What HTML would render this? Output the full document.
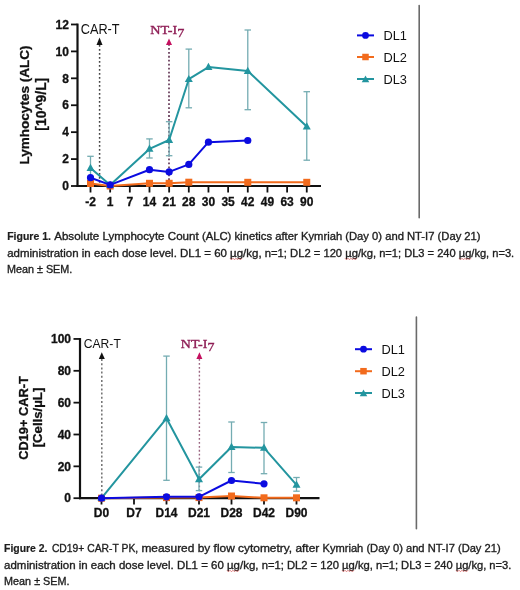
<!DOCTYPE html>
<html><head><meta charset="utf-8"><title>Figures</title>
<style>
html,body{margin:0;padding:0;background:#fff;}
body{width:520px;height:590px;overflow:hidden;font-family:"Liberation Sans",sans-serif;}
svg{display:block;filter:blur(0.3px);}
</style></head>
<body>
<svg width="520" height="590" viewBox="0 0 520 590">
<rect width="520" height="590" fill="#fff"/>
<line x1="77.5" y1="23.58" x2="77.5" y2="187" stroke="#111" stroke-width="2.2"/>
<line x1="76.5" y1="186.0" x2="321" y2="186.0" stroke="#111" stroke-width="2.2"/>
<line x1="71" y1="186" x2="77.5" y2="186" stroke="#111" stroke-width="1.8"/>
<text x="68.9" y="190.2" font-family="Liberation Sans, sans-serif" font-size="12" font-weight="bold" stroke="#111" stroke-width="0.3" fill="#111" text-anchor="end" >0</text>
<line x1="71" y1="159.08" x2="77.5" y2="159.08" stroke="#111" stroke-width="1.8"/>
<text x="68.9" y="163.28" font-family="Liberation Sans, sans-serif" font-size="12" font-weight="bold" stroke="#111" stroke-width="0.3" fill="#111" text-anchor="end" >2</text>
<line x1="71" y1="132.16" x2="77.5" y2="132.16" stroke="#111" stroke-width="1.8"/>
<text x="68.9" y="136.36" font-family="Liberation Sans, sans-serif" font-size="12" font-weight="bold" stroke="#111" stroke-width="0.3" fill="#111" text-anchor="end" >4</text>
<line x1="71" y1="105.24" x2="77.5" y2="105.24" stroke="#111" stroke-width="1.8"/>
<text x="68.9" y="109.44" font-family="Liberation Sans, sans-serif" font-size="12" font-weight="bold" stroke="#111" stroke-width="0.3" fill="#111" text-anchor="end" >6</text>
<line x1="71" y1="78.32" x2="77.5" y2="78.32" stroke="#111" stroke-width="1.8"/>
<text x="68.9" y="82.52" font-family="Liberation Sans, sans-serif" font-size="12" font-weight="bold" stroke="#111" stroke-width="0.3" fill="#111" text-anchor="end" >8</text>
<line x1="71" y1="51.4" x2="77.5" y2="51.4" stroke="#111" stroke-width="1.8"/>
<text x="68.9" y="55.6" font-family="Liberation Sans, sans-serif" font-size="12" font-weight="bold" stroke="#111" stroke-width="0.3" fill="#111" text-anchor="end" >10</text>
<line x1="71" y1="24.48" x2="77.5" y2="24.48" stroke="#111" stroke-width="1.8"/>
<text x="68.9" y="28.68" font-family="Liberation Sans, sans-serif" font-size="12" font-weight="bold" stroke="#111" stroke-width="0.3" fill="#111" text-anchor="end" >12</text>
<line x1="90.5" y1="186.0" x2="90.5" y2="192.5" stroke="#111" stroke-width="1.8"/>
<text x="90.5" y="205.5" font-family="Liberation Sans, sans-serif" font-size="12" font-weight="bold" stroke="#111" stroke-width="0.3" fill="#111" text-anchor="middle" >-2</text>
<line x1="110.16" y1="186.0" x2="110.16" y2="192.5" stroke="#111" stroke-width="1.8"/>
<text x="110.16" y="205.5" font-family="Liberation Sans, sans-serif" font-size="12" font-weight="bold" stroke="#111" stroke-width="0.3" fill="#111" text-anchor="middle" >1</text>
<line x1="129.82" y1="186.0" x2="129.82" y2="192.5" stroke="#111" stroke-width="1.8"/>
<text x="129.82" y="205.5" font-family="Liberation Sans, sans-serif" font-size="12" font-weight="bold" stroke="#111" stroke-width="0.3" fill="#111" text-anchor="middle" >7</text>
<line x1="149.48" y1="186.0" x2="149.48" y2="192.5" stroke="#111" stroke-width="1.8"/>
<text x="149.48" y="205.5" font-family="Liberation Sans, sans-serif" font-size="12" font-weight="bold" stroke="#111" stroke-width="0.3" fill="#111" text-anchor="middle" >14</text>
<line x1="169.14" y1="186.0" x2="169.14" y2="192.5" stroke="#111" stroke-width="1.8"/>
<text x="169.14" y="205.5" font-family="Liberation Sans, sans-serif" font-size="12" font-weight="bold" stroke="#111" stroke-width="0.3" fill="#111" text-anchor="middle" >21</text>
<line x1="188.8" y1="186.0" x2="188.8" y2="192.5" stroke="#111" stroke-width="1.8"/>
<text x="188.8" y="205.5" font-family="Liberation Sans, sans-serif" font-size="12" font-weight="bold" stroke="#111" stroke-width="0.3" fill="#111" text-anchor="middle" >28</text>
<line x1="208.46" y1="186.0" x2="208.46" y2="192.5" stroke="#111" stroke-width="1.8"/>
<text x="208.46" y="205.5" font-family="Liberation Sans, sans-serif" font-size="12" font-weight="bold" stroke="#111" stroke-width="0.3" fill="#111" text-anchor="middle" >30</text>
<line x1="228.12" y1="186.0" x2="228.12" y2="192.5" stroke="#111" stroke-width="1.8"/>
<text x="228.12" y="205.5" font-family="Liberation Sans, sans-serif" font-size="12" font-weight="bold" stroke="#111" stroke-width="0.3" fill="#111" text-anchor="middle" >35</text>
<line x1="247.78" y1="186.0" x2="247.78" y2="192.5" stroke="#111" stroke-width="1.8"/>
<text x="247.78" y="205.5" font-family="Liberation Sans, sans-serif" font-size="12" font-weight="bold" stroke="#111" stroke-width="0.3" fill="#111" text-anchor="middle" >42</text>
<line x1="267.44" y1="186.0" x2="267.44" y2="192.5" stroke="#111" stroke-width="1.8"/>
<text x="267.44" y="205.5" font-family="Liberation Sans, sans-serif" font-size="12" font-weight="bold" stroke="#111" stroke-width="0.3" fill="#111" text-anchor="middle" >49</text>
<line x1="287.1" y1="186.0" x2="287.1" y2="192.5" stroke="#111" stroke-width="1.8"/>
<text x="287.1" y="205.5" font-family="Liberation Sans, sans-serif" font-size="12" font-weight="bold" stroke="#111" stroke-width="0.3" fill="#111" text-anchor="middle" >63</text>
<line x1="306.76" y1="186.0" x2="306.76" y2="192.5" stroke="#111" stroke-width="1.8"/>
<text x="306.76" y="205.5" font-family="Liberation Sans, sans-serif" font-size="12" font-weight="bold" stroke="#111" stroke-width="0.3" fill="#111" text-anchor="middle" >90</text>
<text transform="translate(29.3,105) rotate(-90)" font-family="Liberation Sans, sans-serif" font-size="13.55" font-weight="bold" fill="#111" stroke="#111" stroke-width="0.3" text-anchor="middle">Lymhocytes (ALC)</text>
<text transform="translate(45.9,104.2) rotate(-90)" font-family="Liberation Sans, sans-serif" font-size="13.9" font-weight="bold" fill="#111" stroke="#111" stroke-width="0.3" text-anchor="middle">[10^9/L]</text>
<line x1="99.6" y1="45" x2="99.6" y2="185" stroke="#444" stroke-width="1.5" stroke-dasharray="1.8,2.2"/>
<polygon points="99.5,37.5 96.5,45 102.5,45" fill="#111"/>
<text x="80.8" y="33.8" font-family="Liberation Sans, sans-serif" font-size="14" fill="#111" text-anchor="start" textLength="38.8" lengthAdjust="spacingAndGlyphs">CAR-T</text>
<line x1="169" y1="44" x2="169" y2="185" stroke="#5a2c4c" stroke-width="1.6" stroke-dasharray="1.8,2.15"/>
<polygon points="169,38.5 166,45 172,45" fill="#c4105f"/>
<text x="150.2" y="33.8" font-family="Liberation Serif, serif" font-size="13.2" fill="#8e1d55" stroke="#8e1d55" stroke-width="0.35" textLength="34.2" lengthAdjust="spacingAndGlyphs">NT-I<tspan dy="2.8">7</tspan></text>
<line x1="90.5" y1="156.3" x2="90.5" y2="178" stroke="#74acb2" stroke-width="1.3"/><line x1="87.25" y1="156.3" x2="93.75" y2="156.3" stroke="#74acb2" stroke-width="1.3"/><line x1="87.25" y1="178" x2="93.75" y2="178" stroke="#74acb2" stroke-width="1.3"/>
<line x1="149.48" y1="138.9" x2="149.48" y2="158" stroke="#74acb2" stroke-width="1.3"/><line x1="146.23" y1="138.9" x2="152.73" y2="138.9" stroke="#74acb2" stroke-width="1.3"/><line x1="146.23" y1="158" x2="152.73" y2="158" stroke="#74acb2" stroke-width="1.3"/>
<line x1="169.14" y1="121.7" x2="169.14" y2="155.7" stroke="#74acb2" stroke-width="1.3"/><line x1="165.89" y1="121.7" x2="172.39" y2="121.7" stroke="#74acb2" stroke-width="1.3"/><line x1="165.89" y1="155.7" x2="172.39" y2="155.7" stroke="#74acb2" stroke-width="1.3"/>
<line x1="188.8" y1="49.1" x2="188.8" y2="107.8" stroke="#74acb2" stroke-width="1.3"/><line x1="185.55" y1="49.1" x2="192.05" y2="49.1" stroke="#74acb2" stroke-width="1.3"/><line x1="185.55" y1="107.8" x2="192.05" y2="107.8" stroke="#74acb2" stroke-width="1.3"/>
<line x1="247.78" y1="30" x2="247.78" y2="109.7" stroke="#74acb2" stroke-width="1.3"/><line x1="244.53" y1="30" x2="251.03" y2="30" stroke="#74acb2" stroke-width="1.3"/><line x1="244.53" y1="109.7" x2="251.03" y2="109.7" stroke="#74acb2" stroke-width="1.3"/>
<line x1="306.76" y1="91.7" x2="306.76" y2="160.2" stroke="#74acb2" stroke-width="1.3"/><line x1="303.51" y1="91.7" x2="310.01" y2="91.7" stroke="#74acb2" stroke-width="1.3"/><line x1="303.51" y1="160.2" x2="310.01" y2="160.2" stroke="#74acb2" stroke-width="1.3"/>
<polyline points="90.5,183.5 110.16,186 149.48,183.3 169.14,183.3 188.8,182.2 247.78,182.3 306.76,182.3" fill="none" stroke="#f26b1d" stroke-width="2" stroke-linejoin="round"/>
<rect x="87" y="180" width="7" height="7" fill="#f26b1d"/>
<rect x="106.66" y="182.5" width="7" height="7" fill="#f26b1d"/>
<rect x="145.98" y="179.8" width="7" height="7" fill="#f26b1d"/>
<rect x="165.64" y="179.8" width="7" height="7" fill="#f26b1d"/>
<rect x="185.3" y="178.7" width="7" height="7" fill="#f26b1d"/>
<rect x="244.28" y="178.8" width="7" height="7" fill="#f26b1d"/>
<rect x="303.26" y="178.8" width="7" height="7" fill="#f26b1d"/>
<polyline points="90.5,168 110.16,185 149.48,148.9 169.14,140 188.8,79.2 208.46,67.1 247.78,71 306.76,126.6" fill="none" stroke="#23959f" stroke-width="2" stroke-linejoin="round"/>
<polygon points="90.5,163.68 86.5,170.88 94.5,170.88" fill="#23959f"/>
<polygon points="110.16,180.68 106.16,187.88 114.16,187.88" fill="#23959f"/>
<polygon points="149.48,144.58 145.48,151.78 153.48,151.78" fill="#23959f"/>
<polygon points="169.14,135.68 165.14,142.88 173.14,142.88" fill="#23959f"/>
<polygon points="188.8,74.88 184.8,82.08 192.8,82.08" fill="#23959f"/>
<polygon points="208.46,62.78 204.46,69.98 212.46,69.98" fill="#23959f"/>
<polygon points="247.78,66.68 243.78,73.88 251.78,73.88" fill="#23959f"/>
<polygon points="306.76,122.28 302.76,129.48 310.76,129.48" fill="#23959f"/>
<polyline points="90.5,177.7 110.16,184.9 149.48,169.7 169.14,171.9 188.8,164.4 208.46,142.2 247.78,140.5" fill="none" stroke="#0b0be0" stroke-width="2" stroke-linejoin="round"/>
<circle cx="90.5" cy="177.7" r="3.6" fill="#0b0be0"/>
<circle cx="110.16" cy="184.9" r="3.6" fill="#0b0be0"/>
<circle cx="149.48" cy="169.7" r="3.6" fill="#0b0be0"/>
<circle cx="169.14" cy="171.9" r="3.6" fill="#0b0be0"/>
<circle cx="188.8" cy="164.4" r="3.6" fill="#0b0be0"/>
<circle cx="208.46" cy="142.2" r="3.6" fill="#0b0be0"/>
<circle cx="247.78" cy="140.5" r="3.6" fill="#0b0be0"/>
<line x1="357" y1="35.4" x2="374" y2="35.4" stroke="#0b0be0" stroke-width="2"/>
<circle cx="365.5" cy="35.4" r="3.4" fill="#0b0be0"/>
<text x="383.5" y="40" font-family="Liberation Sans, sans-serif" font-size="12.8" fill="#111" text-anchor="start" >DL1</text>
<line x1="357" y1="57" x2="374" y2="57" stroke="#f26b1d" stroke-width="2"/>
<rect x="362.25" y="53.75" width="6.5" height="6.5" fill="#f26b1d"/>
<text x="383.5" y="61.6" font-family="Liberation Sans, sans-serif" font-size="12.8" fill="#111" text-anchor="start" >DL2</text>
<line x1="357" y1="79" x2="374" y2="79" stroke="#23959f" stroke-width="2"/>
<polygon points="365.5,75.45 361.75,82.2 369.25,82.2" fill="#23959f"/>
<text x="383.5" y="83.6" font-family="Liberation Sans, sans-serif" font-size="12.8" fill="#111" text-anchor="start" >DL3</text>
<line x1="419.2" y1="5.5" x2="419.2" y2="217.8" stroke="#6a6a6a" stroke-width="1.6" stroke-linecap="round"/>
<line x1="80" y1="338.05" x2="80" y2="499.2" stroke="#111" stroke-width="2.2"/>
<line x1="79" y1="498.2" x2="319.5" y2="498.2" stroke="#111" stroke-width="2.2"/>
<line x1="73.5" y1="498.2" x2="80" y2="498.2" stroke="#111" stroke-width="1.8"/>
<text x="71" y="502.4" font-family="Liberation Sans, sans-serif" font-size="12" font-weight="bold" stroke="#111" stroke-width="0.3" fill="#111" text-anchor="end" >0</text>
<line x1="73.5" y1="466.35" x2="80" y2="466.35" stroke="#111" stroke-width="1.8"/>
<text x="71" y="470.55" font-family="Liberation Sans, sans-serif" font-size="12" font-weight="bold" stroke="#111" stroke-width="0.3" fill="#111" text-anchor="end" >20</text>
<line x1="73.5" y1="434.5" x2="80" y2="434.5" stroke="#111" stroke-width="1.8"/>
<text x="71" y="438.7" font-family="Liberation Sans, sans-serif" font-size="12" font-weight="bold" stroke="#111" stroke-width="0.3" fill="#111" text-anchor="end" >40</text>
<line x1="73.5" y1="402.65" x2="80" y2="402.65" stroke="#111" stroke-width="1.8"/>
<text x="71" y="406.85" font-family="Liberation Sans, sans-serif" font-size="12" font-weight="bold" stroke="#111" stroke-width="0.3" fill="#111" text-anchor="end" >60</text>
<line x1="73.5" y1="370.8" x2="80" y2="370.8" stroke="#111" stroke-width="1.8"/>
<text x="71" y="375" font-family="Liberation Sans, sans-serif" font-size="12" font-weight="bold" stroke="#111" stroke-width="0.3" fill="#111" text-anchor="end" >80</text>
<line x1="73.5" y1="338.95" x2="80" y2="338.95" stroke="#111" stroke-width="1.8"/>
<text x="71" y="343.15" font-family="Liberation Sans, sans-serif" font-size="12" font-weight="bold" stroke="#111" stroke-width="0.3" fill="#111" text-anchor="end" >100</text>
<line x1="101.5" y1="498.2" x2="101.5" y2="504.5" stroke="#111" stroke-width="1.8"/>
<text x="101.5" y="517" font-family="Liberation Sans, sans-serif" font-size="12" font-weight="bold" stroke="#111" stroke-width="0.3" fill="#111" text-anchor="middle" >D0</text>
<line x1="134" y1="498.2" x2="134" y2="504.5" stroke="#111" stroke-width="1.8"/>
<text x="134" y="517" font-family="Liberation Sans, sans-serif" font-size="12" font-weight="bold" stroke="#111" stroke-width="0.3" fill="#111" text-anchor="middle" >D7</text>
<line x1="166.5" y1="498.2" x2="166.5" y2="504.5" stroke="#111" stroke-width="1.8"/>
<text x="166.5" y="517" font-family="Liberation Sans, sans-serif" font-size="12" font-weight="bold" stroke="#111" stroke-width="0.3" fill="#111" text-anchor="middle" >D14</text>
<line x1="199" y1="498.2" x2="199" y2="504.5" stroke="#111" stroke-width="1.8"/>
<text x="199" y="517" font-family="Liberation Sans, sans-serif" font-size="12" font-weight="bold" stroke="#111" stroke-width="0.3" fill="#111" text-anchor="middle" >D21</text>
<line x1="231.5" y1="498.2" x2="231.5" y2="504.5" stroke="#111" stroke-width="1.8"/>
<text x="231.5" y="517" font-family="Liberation Sans, sans-serif" font-size="12" font-weight="bold" stroke="#111" stroke-width="0.3" fill="#111" text-anchor="middle" >D28</text>
<line x1="264" y1="498.2" x2="264" y2="504.5" stroke="#111" stroke-width="1.8"/>
<text x="264" y="517" font-family="Liberation Sans, sans-serif" font-size="12" font-weight="bold" stroke="#111" stroke-width="0.3" fill="#111" text-anchor="middle" >D42</text>
<line x1="296.5" y1="498.2" x2="296.5" y2="504.5" stroke="#111" stroke-width="1.8"/>
<text x="296.5" y="517" font-family="Liberation Sans, sans-serif" font-size="12" font-weight="bold" stroke="#111" stroke-width="0.3" fill="#111" text-anchor="middle" >D90</text>
<text transform="translate(28,418) rotate(-90)" font-family="Liberation Sans, sans-serif" font-size="12.8" font-weight="bold" fill="#111" stroke="#111" stroke-width="0.3" text-anchor="middle">CD19+ CAR-T</text>
<text transform="translate(41.6,417.5) rotate(-90)" font-family="Liberation Sans, sans-serif" font-size="13.2" font-weight="bold" fill="#111" stroke="#111" stroke-width="0.3" text-anchor="middle">[Cells/&#181;L]</text>
<line x1="101.8" y1="359" x2="101.8" y2="497" stroke="#707070" stroke-width="1.5" stroke-dasharray="2,2.2"/>
<polygon points="101.8,352.2 98.8,359 104.8,359" fill="#111"/>
<text x="83.8" y="347.9" font-family="Liberation Sans, sans-serif" font-size="13.3" fill="#111" text-anchor="start" textLength="37" lengthAdjust="spacingAndGlyphs">CAR-T</text>
<line x1="199.4" y1="359" x2="199.4" y2="497" stroke="#9a6580" stroke-width="1.4" stroke-dasharray="1.8,2.15"/>
<polygon points="199.4,352.3 196.4,359 202.4,359" fill="#c4105f"/>
<text x="180.8" y="348.3" font-family="Liberation Serif, serif" font-size="13.2" fill="#8e1d55" stroke="#8e1d55" stroke-width="0.35" textLength="33.6" lengthAdjust="spacingAndGlyphs">NT-I<tspan dy="2.6">7</tspan></text>
<line x1="166.5" y1="356.1" x2="166.5" y2="480.3" stroke="#74acb2" stroke-width="1.3"/><line x1="163.25" y1="356.1" x2="169.75" y2="356.1" stroke="#74acb2" stroke-width="1.3"/><line x1="163.25" y1="480.3" x2="169.75" y2="480.3" stroke="#74acb2" stroke-width="1.3"/>
<line x1="199" y1="467.1" x2="199" y2="490.6" stroke="#74acb2" stroke-width="1.3"/><line x1="195.75" y1="467.1" x2="202.25" y2="467.1" stroke="#74acb2" stroke-width="1.3"/><line x1="195.75" y1="490.6" x2="202.25" y2="490.6" stroke="#74acb2" stroke-width="1.3"/>
<line x1="231.5" y1="422" x2="231.5" y2="472.5" stroke="#74acb2" stroke-width="1.3"/><line x1="228.25" y1="422" x2="234.75" y2="422" stroke="#74acb2" stroke-width="1.3"/><line x1="228.25" y1="472.5" x2="234.75" y2="472.5" stroke="#74acb2" stroke-width="1.3"/>
<line x1="264" y1="422.5" x2="264" y2="473.7" stroke="#74acb2" stroke-width="1.3"/><line x1="260.75" y1="422.5" x2="267.25" y2="422.5" stroke="#74acb2" stroke-width="1.3"/><line x1="260.75" y1="473.7" x2="267.25" y2="473.7" stroke="#74acb2" stroke-width="1.3"/>
<line x1="296.5" y1="477.5" x2="296.5" y2="491.2" stroke="#74acb2" stroke-width="1.3"/><line x1="293.25" y1="477.5" x2="299.75" y2="477.5" stroke="#74acb2" stroke-width="1.3"/><line x1="293.25" y1="491.2" x2="299.75" y2="491.2" stroke="#74acb2" stroke-width="1.3"/>
<polyline points="101.5,498.2 166.5,497.6 199,497.6 231.5,496 264,497.8 296.5,497.8" fill="none" stroke="#f26b1d" stroke-width="2" stroke-linejoin="round"/>
<rect x="98" y="494.7" width="7" height="7" fill="#f26b1d"/>
<rect x="163" y="494.1" width="7" height="7" fill="#f26b1d"/>
<rect x="195.5" y="494.1" width="7" height="7" fill="#f26b1d"/>
<rect x="228" y="492.5" width="7" height="7" fill="#f26b1d"/>
<rect x="260.5" y="494.3" width="7" height="7" fill="#f26b1d"/>
<rect x="293" y="494.3" width="7" height="7" fill="#f26b1d"/>
<polyline points="101.5,498.2 166.5,418.3 199,479.3 231.5,447 264,447.8 296.5,484.8" fill="none" stroke="#23959f" stroke-width="2" stroke-linejoin="round"/>
<polygon points="101.5,493.88 97.5,501.08 105.5,501.08" fill="#23959f"/>
<polygon points="166.5,413.98 162.5,421.18 170.5,421.18" fill="#23959f"/>
<polygon points="199,474.98 195,482.18 203,482.18" fill="#23959f"/>
<polygon points="231.5,442.68 227.5,449.88 235.5,449.88" fill="#23959f"/>
<polygon points="264,443.48 260,450.68 268,450.68" fill="#23959f"/>
<polygon points="296.5,480.48 292.5,487.68 300.5,487.68" fill="#23959f"/>
<polyline points="101.5,498.2 166.5,496.8 199,496.8 231.5,480.5 264,483.8" fill="none" stroke="#0b0be0" stroke-width="2" stroke-linejoin="round"/>
<circle cx="101.5" cy="498.2" r="3.6" fill="#0b0be0"/>
<circle cx="166.5" cy="496.8" r="3.6" fill="#0b0be0"/>
<circle cx="199" cy="496.8" r="3.6" fill="#0b0be0"/>
<circle cx="231.5" cy="480.5" r="3.6" fill="#0b0be0"/>
<circle cx="264" cy="483.8" r="3.6" fill="#0b0be0"/>
<line x1="355" y1="349.2" x2="372" y2="349.2" stroke="#0b0be0" stroke-width="2"/>
<circle cx="363.5" cy="349.2" r="3.4" fill="#0b0be0"/>
<text x="381.5" y="353.8" font-family="Liberation Sans, sans-serif" font-size="12.8" fill="#111" text-anchor="start" >DL1</text>
<line x1="355" y1="371.2" x2="372" y2="371.2" stroke="#f26b1d" stroke-width="2"/>
<rect x="360.25" y="367.95" width="6.5" height="6.5" fill="#f26b1d"/>
<text x="381.5" y="375.8" font-family="Liberation Sans, sans-serif" font-size="12.8" fill="#111" text-anchor="start" >DL2</text>
<line x1="355" y1="393" x2="372" y2="393" stroke="#23959f" stroke-width="2"/>
<polygon points="363.5,389.45 359.75,396.2 367.25,396.2" fill="#23959f"/>
<text x="381.5" y="397.6" font-family="Liberation Sans, sans-serif" font-size="12.8" fill="#111" text-anchor="start" >DL3</text>
<line x1="416.4" y1="317" x2="416.4" y2="528.8" stroke="#6a6a6a" stroke-width="1.6" stroke-linecap="round"/>
<text x="7.2" y="240" font-family="Liberation Sans, sans-serif" font-size="11.1" font-weight="bold" fill="#1e1e1e" stroke="#1e1e1e" stroke-width="0.21" textLength="43.7" lengthAdjust="spacingAndGlyphs">Figure 1.</text>
<text x="54.2" y="240" font-family="Liberation Sans, sans-serif" font-size="11.1" fill="#1e1e1e" stroke="#1e1e1e" stroke-width="0.35" textLength="144.5" lengthAdjust="spacingAndGlyphs">Absolute Lymphocyte Count</text>
<text x="201.9" y="240" font-family="Liberation Sans, sans-serif" font-size="11.1" fill="#1e1e1e" stroke="#1e1e1e" stroke-width="0.35" textLength="95.9" lengthAdjust="spacingAndGlyphs">(ALC) kinetics after</text>
<text x="301" y="240" font-family="Liberation Sans, sans-serif" font-size="11.1" fill="#1e1e1e" stroke="#1e1e1e" stroke-width="0.35" textLength="179.6" lengthAdjust="spacingAndGlyphs">Kymriah (Day 0) and NT-I7 (Day 21)</text>
<text x="7.2" y="256.6" font-family="Liberation Sans, sans-serif" font-size="11.1" fill="#1e1e1e" stroke="#1e1e1e" stroke-width="0.35" textLength="254.4" lengthAdjust="spacingAndGlyphs">administration in each dose level. DL1 = 60 &#181;g/kg,</text>
<text x="264.8" y="256.6" font-family="Liberation Sans, sans-serif" font-size="11.1" fill="#1e1e1e" stroke="#1e1e1e" stroke-width="0.35" textLength="111.2" lengthAdjust="spacingAndGlyphs">n=1; DL2 = 120 &#181;g/kg,</text>
<text x="379.2" y="256.6" font-family="Liberation Sans, sans-serif" font-size="11.1" fill="#1e1e1e" stroke="#1e1e1e" stroke-width="0.35" textLength="135" lengthAdjust="spacingAndGlyphs">n=1; DL3 = 240 &#181;g/kg, n=3.</text>
<text x="7" y="273.1" font-family="Liberation Sans, sans-serif" font-size="11.1" fill="#1e1e1e" stroke="#1e1e1e" stroke-width="0.35" textLength="65.3" lengthAdjust="spacingAndGlyphs">Mean &#177; SEM.</text>
<text x="4.1" y="551.6" font-family="Liberation Sans, sans-serif" font-size="11.1" font-weight="bold" fill="#1e1e1e" stroke="#1e1e1e" stroke-width="0.21" textLength="43.4" lengthAdjust="spacingAndGlyphs">Figure 2.</text>
<text x="51.9" y="551.6" font-family="Liberation Sans, sans-serif" font-size="11.1" fill="#1e1e1e" stroke="#1e1e1e" stroke-width="0.35" textLength="86.3" lengthAdjust="spacingAndGlyphs">CD19+ CAR-T PK,</text>
<text x="141.4" y="551.6" font-family="Liberation Sans, sans-serif" font-size="11.1" fill="#1e1e1e" stroke="#1e1e1e" stroke-width="0.35" textLength="177.9" lengthAdjust="spacingAndGlyphs">measured by flow cytometry, after</text>
<text x="322.5" y="551.6" font-family="Liberation Sans, sans-serif" font-size="11.1" fill="#1e1e1e" stroke="#1e1e1e" stroke-width="0.35" textLength="178.1" lengthAdjust="spacingAndGlyphs">Kymriah (Day 0) and NT-I7 (Day 21)</text>
<text x="4.1" y="568.6" font-family="Liberation Sans, sans-serif" font-size="11.1" fill="#1e1e1e" stroke="#1e1e1e" stroke-width="0.35" textLength="254.4" lengthAdjust="spacingAndGlyphs">administration in each dose level. DL1 = 60 &#181;g/kg,</text>
<text x="261.7" y="568.6" font-family="Liberation Sans, sans-serif" font-size="11.1" fill="#1e1e1e" stroke="#1e1e1e" stroke-width="0.35" textLength="111.2" lengthAdjust="spacingAndGlyphs">n=1; DL2 = 120 &#181;g/kg,</text>
<text x="376.1" y="568.6" font-family="Liberation Sans, sans-serif" font-size="11.1" fill="#1e1e1e" stroke="#1e1e1e" stroke-width="0.35" textLength="135.2" lengthAdjust="spacingAndGlyphs">n=1; DL3 = 240 &#181;g/kg, n=3.</text>
<text x="4.1" y="585.1" font-family="Liberation Sans, sans-serif" font-size="11.1" fill="#1e1e1e" stroke="#1e1e1e" stroke-width="0.35" textLength="65.4" lengthAdjust="spacingAndGlyphs">Mean &#177; SEM.</text>
<polyline points="230,258.2 231.5,259.8 233,258.2 234.5,259.8 236,258.2 237.5,259.8 239,258.2 240.5,259.8 242,258.2" fill="none" stroke="#d23c3c" stroke-width="0.8" opacity="0.75"/>
<polyline points="345,258.2 346.5,259.8 348,258.2 349.5,259.8 351,258.2 352.5,259.8 354,258.2 355.5,259.8 357,258.2" fill="none" stroke="#d23c3c" stroke-width="0.8" opacity="0.75"/>
<polyline points="459,258.2 460.5,259.8 462,258.2 463.5,259.8 465,258.2 466.5,259.8 468,258.2 469.5,259.8 471,258.2" fill="none" stroke="#d23c3c" stroke-width="0.8" opacity="0.75"/>
<polyline points="227,570.2 228.5,571.8 230,570.2 231.5,571.8 233,570.2 234.5,571.8 236,570.2 237.5,571.8 239,570.2" fill="none" stroke="#d23c3c" stroke-width="0.8" opacity="0.75"/>
<polyline points="342,570.2 343.5,571.8 345,570.2 346.5,571.8 348,570.2 349.5,571.8 351,570.2 352.5,571.8 354,570.2" fill="none" stroke="#d23c3c" stroke-width="0.8" opacity="0.75"/>
<polyline points="456,570.2 457.5,571.8 459,570.2 460.5,571.8 462,570.2 463.5,571.8 465,570.2 466.5,571.8 468,570.2" fill="none" stroke="#d23c3c" stroke-width="0.8" opacity="0.75"/>
</svg>
</body></html>
